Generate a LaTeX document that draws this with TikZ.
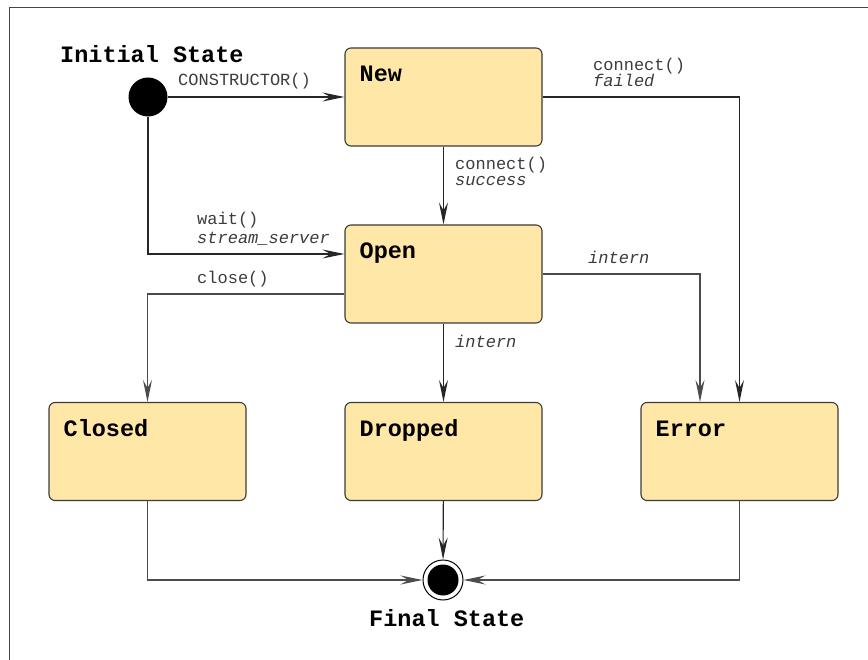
\documentclass[tikz,border=0pt]{standalone}
\usepackage{fontspec}
\usetikzlibrary{arrows.meta,calc}
\newfontfamily\monofam{Liberation Mono}
\definecolor{boxfill}{HTML}{FFE7A8}
\definecolor{boxedge}{HTML}{3A3A3A}
\definecolor{lblcol}{HTML}{3C3C3C}
\definecolor{framecol}{HTML}{444444}
\tikzset{
  statebox/.style={draw=boxedge, line width=1.1pt, fill=boxfill, rounded corners=6pt,
    minimum width=197pt, minimum height=98pt, inner sep=0pt},
  stitle/.style={anchor=base west, inner sep=0pt, font=\monofam\bfseries\fontsize{23.5}{26}\selectfont},
  lbl/.style={anchor=base west, inner sep=0pt, text=lblcol, font=\monofam\fontsize{17}{17}\selectfont},
  ilbl/.style={lbl, font=\monofam\itshape\fontsize{17}{17}\selectfont},
  conn/.style={draw=black!85, line width=1.1pt,
    -{Stealth[length=22pt, width=9pt, inset=8pt]}},
  grayconn/.style={conn, draw=black!70},
}
\begin{document}
\begin{tikzpicture}[x=1pt,y=-1pt]
\useasboundingbox (0,0) rectangle (868,660);
\draw[framecol, line width=1pt] (9,8) rectangle (880,680);
% states
\node[circle, fill=black, minimum size=39pt, inner sep=0pt] (init) at (148,97) {};
\node[stitle] (initt) at (60,63) {Initial State};
\node[statebox] (new) at (443.5,97) {};
\node[statebox] (open) at (443.5,274) {};
\node[statebox] (closed) at (147.5,451.5) {};
\node[statebox] (dropped) at (443.5,451.5) {};
\node[statebox] (error) at (739.5,451.5) {};
\node[stitle] (newt) at ([xshift=15pt,yshift=-34pt]new.north west) {New};
\node[stitle] (opent) at ([xshift=15pt,yshift=-34pt]open.north west) {Open};
\node[stitle] (closedt) at ([xshift=15pt,yshift=-35pt]closed.north west) {Closed};
\node[stitle] (droppedt) at ([xshift=15pt,yshift=-35pt]dropped.north west) {Dropped};
\node[stitle] (errort) at ([xshift=15pt,yshift=-35pt]error.north west) {Error};
\node[circle, draw=black, line width=1pt, fill=white, minimum size=40pt, inner sep=0pt,
  path picture={\fill[black] (path picture bounding box.center) circle (15.5pt);}] (final) at (443,580) {};
\node[stitle] (finalt) at (369,626) {Final State};
% connectors
\draw[conn] (init) -- (new);
\draw[conn] (new.east) -| (error.north);
\draw[conn] (new) -- (open);
\draw[conn] (init) |- ([yshift=20pt]open.west);
\draw[grayconn] ([yshift=-20pt]open.west) -| (closed.north);
\draw[grayconn] (open.east) -| ([xshift=-39.5pt]error.north);
\draw[conn] (open) -- (dropped);
\draw[grayconn] (closed) |- (final);
\draw[conn] (dropped) -- (final);
\draw[grayconn] (error) |- (final);
% labels
\node[lbl] (l1) at (178,86) {CONSTRUCTOR()};
\node[lbl] (l2a) at (593,70.5) {connect()};
\node[ilbl] (l2b) at (593,87) {failed};
\node[lbl] (l3a) at (455,169.5) {connect()};
\node[ilbl] (l3b) at (455,186) {success};
\node[lbl] (l4a) at (197,225) {wait()};
\node[ilbl] (l4b) at (197,244) {stream\_server};
\node[lbl] (l5) at (197,284) {close()};
\node[ilbl] (l6) at (588,264) {intern};
\node[ilbl] (l7) at (455,348) {intern};
\end{tikzpicture}
\end{document}
